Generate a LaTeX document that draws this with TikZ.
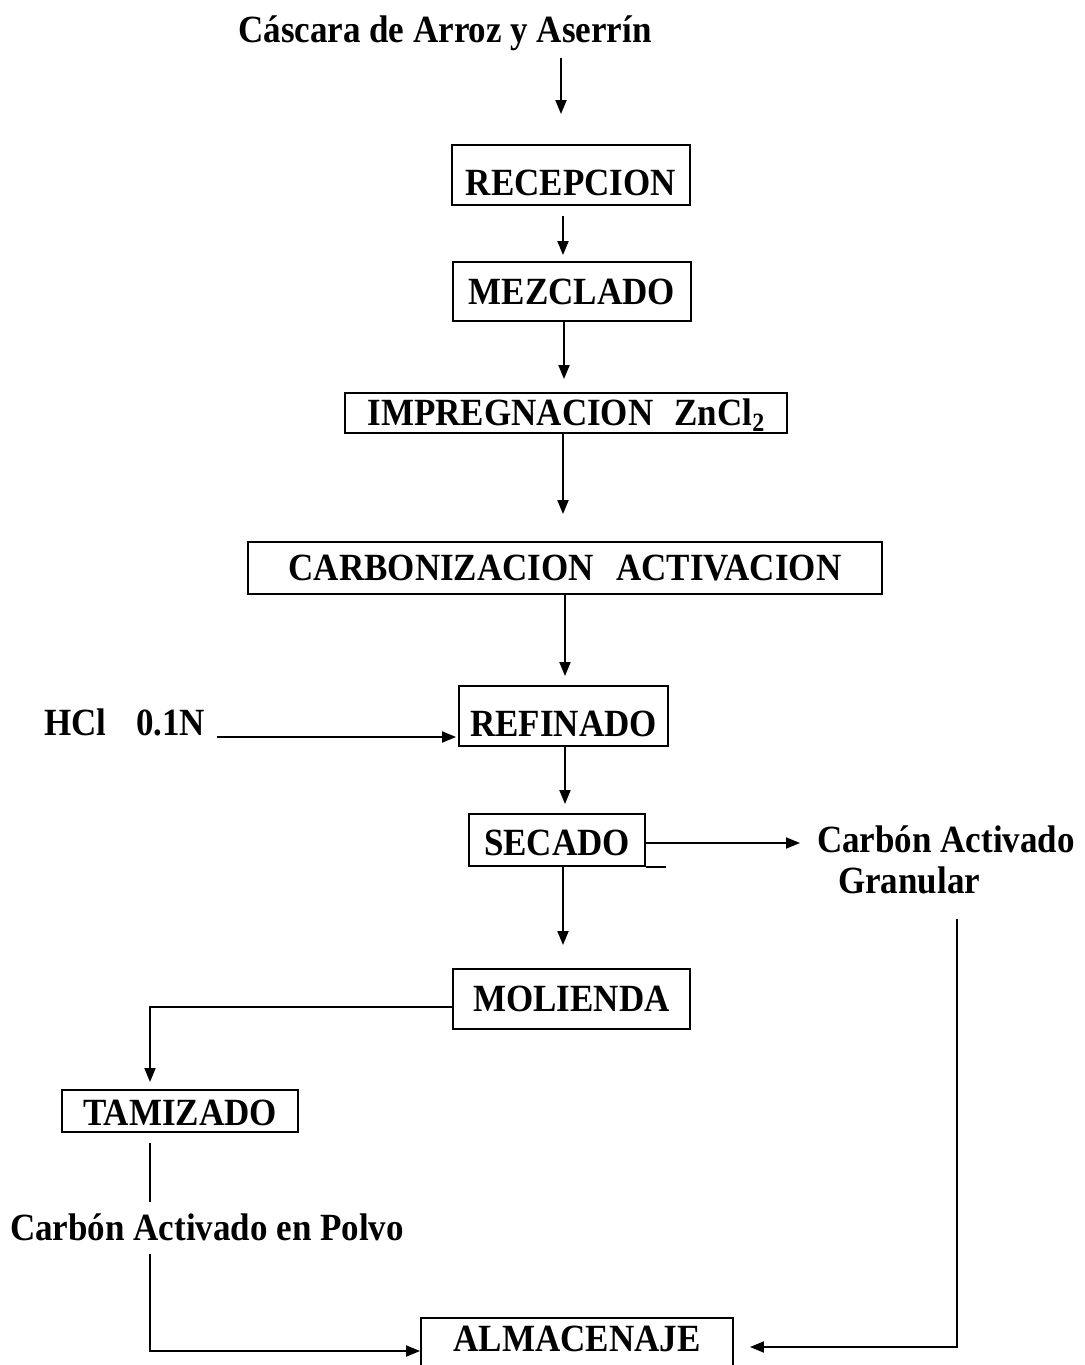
\documentclass[tikz,border=0pt]{standalone}
\usepackage{fontspec}
\setmainfont{Liberation Serif}
\usetikzlibrary{arrows.meta,calc}
\newcommand\bigbf{\fontsize{35}{40}\selectfont\bfseries}
\newcommand\tall[1]{\scalebox{1}[1.1]{#1}}
\tikzset{
  box/.style={draw, line width=1.9pt, inner sep=0pt, font=\bigbf, text height=23.2pt, text depth=0pt},
  lbl/.style={inner sep=0pt, font=\bigbf},
  arr/.style={line width=1.9pt, -{Triangle[length=14pt,width=11pt]}},
  ln/.style={line width=1.9pt},
}
\begin{document}
\begin{tikzpicture}[x=1pt,y=-1pt]
\useasboundingbox (0,0) rectangle (1084,1365);
\clip (0,0) rectangle (1084,1365);
% labels
\node[lbl, anchor=base] (title) at (445,42) {\tall{C\'ascara de Arroz y Aserr\'in}};
\node[lbl, anchor=base west] (hcl) at (44,735) {\tall{HCl\hspace{0.85em}0.1N}};
\node[lbl, anchor=base west] (cav) at (817,852) {\tall{Carb\'on Activado}};
\node[lbl, anchor=base west] (gran) at (838,893) {\tall{Granular}};
\node[lbl, anchor=base west] (polvo) at (10,1240) {\tall{Carb\'on Activado en Polvo}};
% boxes
\node[box, minimum width=238pt, minimum height=60pt, text height=41.5pt] (rec) at (571,175) {\tall{RECEPCION}};
\node[box, minimum width=238pt, minimum height=59pt, text height=25pt] (mez) at (572,291.5) {\tall{MEZCLADO}};
\node[box, minimum width=442pt, minimum height=40pt, text height=25pt] (imp) at (566,413) {\tall{IMPREGNACION\hspace{0.6em}ZnCl\raisebox{-0.35ex}{\fontsize{24}{24}\selectfont 2}}};
\node[box, minimum width=634pt, minimum height=52pt, text height=25pt] (car) at (565,568) {\tall{CARBONIZACION\hspace{0.64em}ACTIVACION}};
\node[box, minimum width=209pt, minimum height=60pt, text height=41pt] (ref) at (563.5,716) {\tall{REFINADO}};
\node[box, minimum width=176pt, minimum height=52pt, text height=31pt] (sec) at (557,840) {\tall{SECADO}};
\node[box, minimum width=237pt, minimum height=60pt, text height=25pt] (mol) at (571.5,999) {\tall{MOLIENDA}};
\node[box, minimum width=236pt, minimum height=42pt, text height=29pt] (tam) at (180,1111) {\tall{TAMIZADO}};
\node[box, minimum width=312pt, minimum height=82pt, text depth=38pt] (alm) at (577,1359) {\tall{ALMACENAJE}};
% connectors
\draw[arr, shorten <=7pt, shorten >=30pt] ([xshift=116pt]title.south) -- ([xshift=-10pt]rec.north);
\draw[arr, shorten <=10pt, shorten >=6pt] ([xshift=-8pt]rec.south) -- ([xshift=-9pt]mez.north);
\draw[arr, shorten >=13pt] ([xshift=-8pt]mez.south) -- ([xshift=-2pt]imp.north);
\draw[arr, shorten >=27pt] ([xshift=-3pt]imp.south) -- ([xshift=-2pt]car.north);
\draw[arr, shorten >=9pt] (car.south) -- ([xshift=1.5pt]ref.north);
\draw[arr, shorten >=9pt] ([xshift=1.5pt]ref.south) -- ([xshift=8pt]sec.north);
\draw[arr, shorten >=23pt] ([xshift=6pt]sec.south) -- ([xshift=-8.5pt]mol.north);
\draw[arr, shorten <=12pt, shorten >=2pt] ($(hcl.base east)+(0,2)$) -- ($(hcl.base east -| ref.west)+(0,2)$);
\draw[arr, shorten >=17pt] ($(sec.east)+(0,3)$) -- ($(sec.east -| cav.west)+(0,3)$);
\draw[ln] (sec.south east) -- ++(20,0);
\draw[arr, shorten >=7pt] ($(mol.west)+(0,8)$) -| ($(tam.north)+(-30,0)$);
\draw[ln, shorten <=10pt, shorten >=11pt] ($(tam.south)+(-30,0)$) -- ($(tam.south |- polvo.north)+(-30,0)$);
\draw[arr, shorten <=13pt] ($(tam.south |- polvo.south)+(-30,0)$) |- ($(alm.west)+(0,-8)$);
\draw[arr, shorten <=25pt, shorten >=16pt] ($(gran.south)+(48,0)$) |- ($(alm.east)+(0,-12)$);
\end{tikzpicture}
\end{document}
